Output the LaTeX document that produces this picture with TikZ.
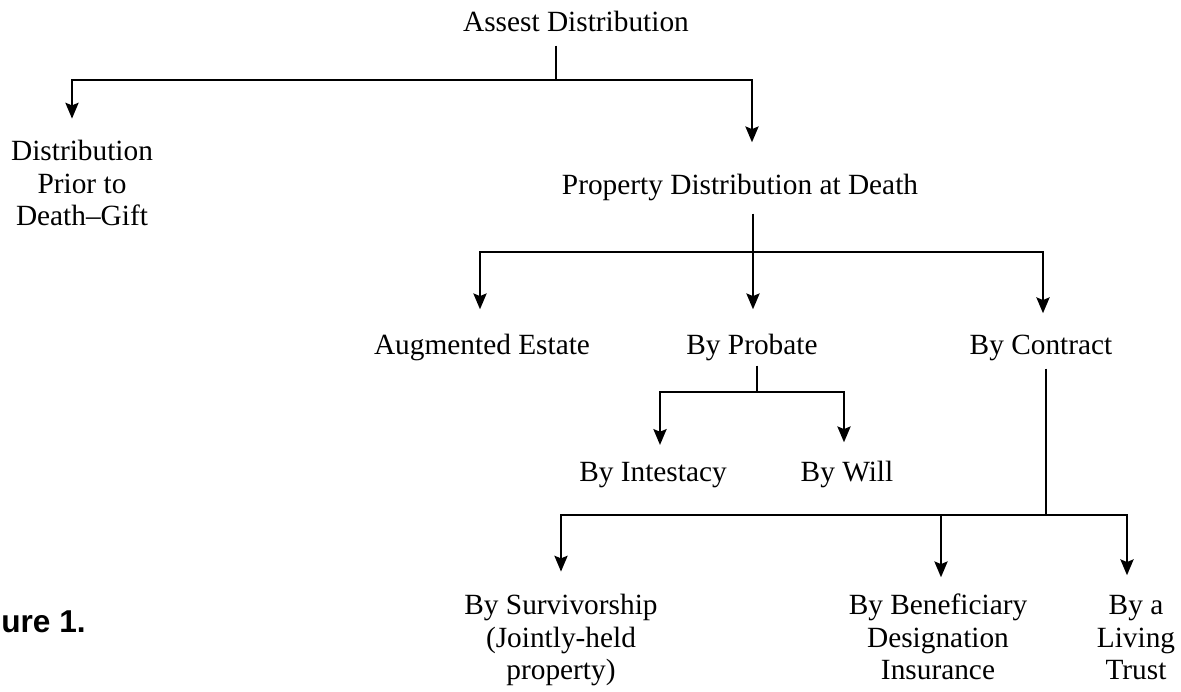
\documentclass[tikz,border=0pt]{standalone}
\usepackage{fontspec}
\setmainfont{Liberation Serif}
\newfontfamily\capfont{Liberation Sans}
\usetikzlibrary{arrows.meta, calc}

\begin{document}
\begin{tikzpicture}[
        x=0.02cm, y=-0.02cm,
        every node/.style={font=\fontsize{16.7}{18.7}\selectfont, inner sep=0pt, align=center, anchor=base},
        link/.style={draw, line width=1.2pt},
        arrow/.style={link, -{Stealth[length=9pt, width=7.5pt, inset=1.5pt]}}
    ]
    \useasboundingbox (0,0) rectangle (1181,692);

    % Nodes (multi-line ones sit on their last line)
    \node (asset)    at (576,32)  {Assest Distribution};
    \node (gift)     at (82,226)  {Distribution\\Prior to\\Death--Gift};
    \node (prop)     at (740,195) {Property Distribution at Death};
    \node (augm)     at (482,355) {Augmented Estate};
    \node (probate)  at (752,355) {By Probate};
    \node (contract) at (1041,355) {By Contract};
    \node (intest)   at (653,482) {By Intestacy};
    \node (will)     at (847,482) {By Will};
    \node (surv)     at (561,680) {By Survivorship\\(Jointly-held\\property)};
    \node (benef)    at (938,680) {By Beneficiary\\Designation\\Insurance};
    \node (trust)    at (1136,680) {By a\\Living\\Trust};
    \node[anchor=base west, font=\capfont\bfseries\fontsize{18}{21}\selectfont] (fig) at (1,633) {ure 1.};

    % Junctions
    \coordinate (j0) at (556,80);
    \coordinate (j1) at (753,252);
    \coordinate (j2) at (757,392);
    \coordinate (j3) at (1046,515);

    % Top level
    \draw[link] ($(asset.south)+(-20,13)$) -- (j0);
    \draw[arrow] (j0) -| ($(gift.north)+(-10,-21)$);
    \draw[arrow] (j0) -| ($(prop.north)+(12,-32)$);

    % Property distribution at death
    \draw[link] ($(prop.south)+(13,12)$) -- (j1);
    \draw[arrow] (j1) -| ($(augm.north)+(-2,-25)$);
    \draw[arrow] (j1) -- ($(probate.north)+(1,-25)$);
    \draw[arrow] (j1) -| ($(contract.north)+(2,-22)$);

    % Probate
    \draw[link] ($(probate.south)+(5,4)$) -- (j2);
    \draw[arrow] (j2) -| ($(intest.north)+(7,-17.5)$);
    \draw[arrow] (j2) -| ($(will.north)+(-3,-19)$);

    % Contract
    \draw[link] ($(contract.south)+(5,7)$) -- (j3);
    \draw[arrow] (j3) -| ($(surv.north)+(0,-22)$);
    \draw[arrow] (j3) -| ($(benef.north)+(3,-16)$);
    \draw[arrow] (j3) -| ($(trust.north)+(-9,-19.5)$);

\end{tikzpicture}
\end{document}
